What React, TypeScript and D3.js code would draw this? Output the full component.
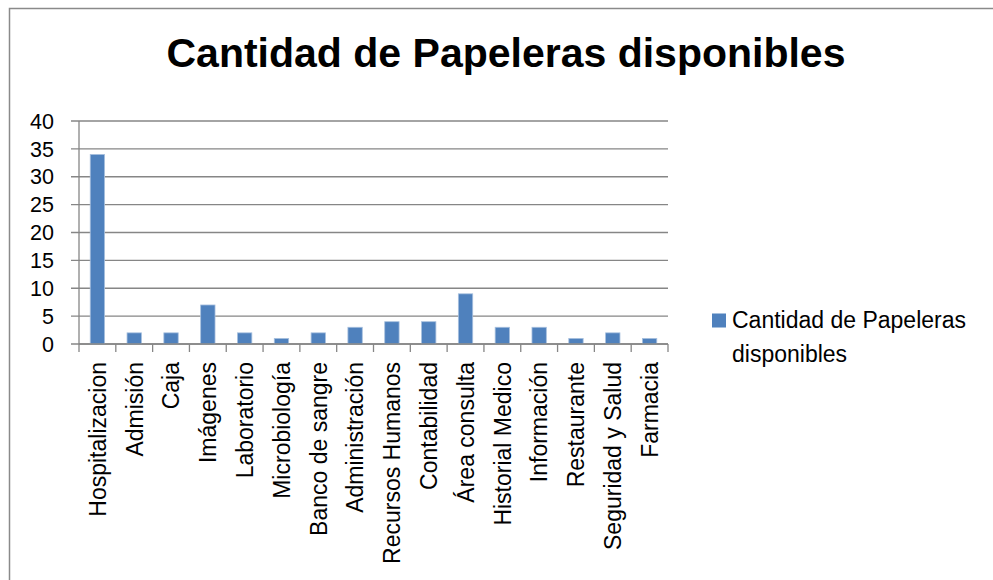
import React from "react";
import * as d3 from "d3";

const categories = [
  "Hospitalizacion",
  "Admisión",
  "Caja",
  "Imágenes",
  "Laboratorio",
  "Microbiología",
  "Banco de sangre",
  "Administración",
  "Recursos Humanos",
  "Contabilidad",
  "Área consulta",
  "Historial Medico",
  "Información",
  "Restaurante",
  "Seguridad y Salud",
  "Farmacia",
];
const values = [34, 2, 2, 7, 2, 1, 2, 3, 4, 4, 9, 3, 3, 1, 2, 1];
const yTicks = [0, 5, 10, 15, 20, 25, 30, 35, 40];
const title = "Cantidad de Papeleras disponibles";
const seriesName = ["Cantidad de Papeleras", "disponibles"];

const W = 993;
const H = 580;
const plotLeft = 79;
const plotRight = 668;
const plotTop = 121;
const plotBottom = 344;
const font = "'Liberation Sans', Arial, sans-serif";
const gridColor = "#868686";
const barColor = "#4F81BD";

export default function App() {
  const x = d3
    .scaleBand<string>()
    .domain(categories)
    .range([plotLeft, plotRight])
    .paddingInner(0.61)
    .paddingOuter(0.305);
  const xb = d3.scaleBand<string>().domain(categories).range([plotLeft, plotRight]);
  const y = d3.scaleLinear().domain([0, 40]).range([plotBottom, plotTop]);

  return (
    <svg
      width={W}
      height={H}
      style={{ position: "absolute", left: 0, top: 0, background: "#fff" }}
      fontFamily={font}
    >
      <rect x={0} y={0} width={W} height={H} fill="#fff" />
      <rect
        x={9.5}
        y={8.5}
        width={1000}
        height={600}
        fill="none"
        stroke="#8a8a8a"
        strokeWidth={1.5}
      />
      <text
        x={506}
        y={67}
        textAnchor="middle"
        fontSize={41}
        fontWeight="bold"
        fill="#000"
      >
        {title}
      </text>

      {/* gridlines and y ticks */}
      {yTicks.map((t) => (
        <g key={t}>
          <line
            x1={plotLeft - 8}
            x2={plotRight}
            y1={y(t)}
            y2={y(t)}
            stroke={gridColor}
            strokeWidth={1.3}
          />
          <text
            x={54}
            y={y(t)}
            dy="0.36em"
            textAnchor="end"
            fontSize={21.5}
            fill="#000"
          >
            {t}
          </text>
        </g>
      ))}
      {/* y axis */}
      <line
        x1={plotLeft}
        x2={plotLeft}
        y1={plotTop}
        y2={plotBottom}
        stroke={gridColor}
        strokeWidth={1.3}
      />
      {/* x ticks */}
      {categories.map((c) => (
        <line
          key={"t" + c}
          x1={xb(c)!}
          x2={xb(c)!}
          y1={plotBottom}
          y2={plotBottom + 8}
          stroke={gridColor}
          strokeWidth={1.3}
        />
      ))}
      <line
        x1={plotRight}
        x2={plotRight}
        y1={plotBottom}
        y2={plotBottom + 8}
        stroke={gridColor}
        strokeWidth={1.3}
      />

      {/* bars */}
      {categories.map((c, i) => (
        <rect
          key={"b" + c}
          x={x(c)!}
          y={y(values[i])}
          width={x.bandwidth()}
          height={plotBottom - y(values[i])}
          fill={barColor}
          stroke="#a7c0de"
          strokeWidth={0.8}
        />
      ))}
      {/* x axis line on top */}
      <line
        x1={plotLeft}
        x2={plotRight}
        y1={plotBottom}
        y2={plotBottom}
        stroke={gridColor}
        strokeWidth={1.3}
      />

      {/* x labels */}
      {categories.map((c) => {
        const cx = xb(c)! + xb.bandwidth() / 2;
        return (
          <text
            key={"l" + c}
            transform={`translate(${cx},362) rotate(-90)`}
            dy="0.36em"
            textAnchor="end"
            fontSize={23}
            fill="#000"
          >
            {c}
          </text>
        );
      })}

      {/* legend */}
      <rect x={712} y={313.5} width={14} height={14} fill={barColor} />
      <text x={732} y={328} fontSize={23} fill="#000">
        {seriesName[0]}
      </text>
      <text x={732} y={362} fontSize={23} fill="#000">
        {seriesName[1]}
      </text>
    </svg>
  );
}
